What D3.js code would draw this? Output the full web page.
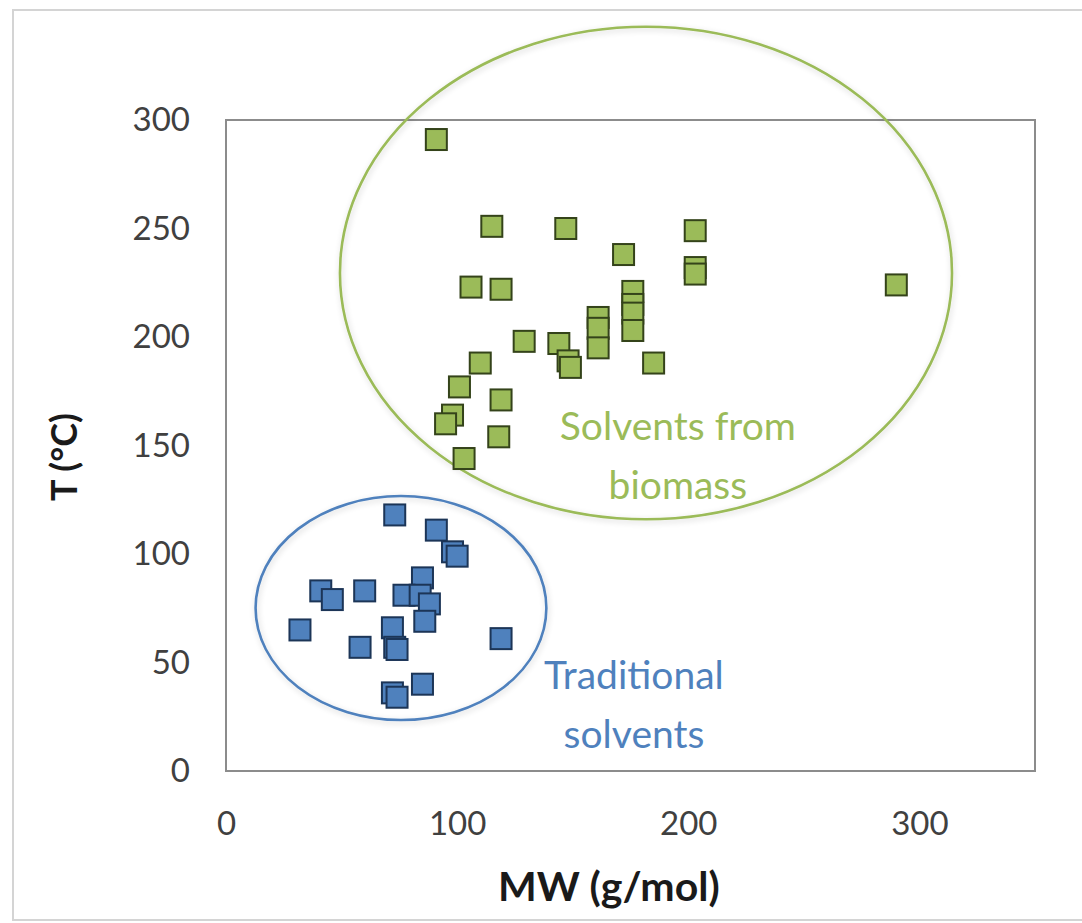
<!DOCTYPE html>
<html>
<head>
<meta charset="utf-8">
<script src="https://cdn.jsdelivr.net/npm/d3@7"></script>
<style>
  html, body { margin: 0; padding: 0; background: #ffffff; }
  svg { display: block; }
  text { font-family: Lato, "Open Sans", sans-serif; }
</style>
</head>
<body>
<svg id="chart" width="1082" height="923"></svg>
<script>
// ---- data ----
const biomassMW = [91, 115, 147, 203, 172, 203, 203, 106, 119, 176, 176, 176, 176, 161, 161, 161, 129, 144, 148, 149, 185, 110, 101, 119, 98, 95, 118, 103, 290];
const biomassT  = [291, 251, 250, 249, 238, 232, 229, 223, 222, 221, 215, 211, 203, 209, 204, 195, 198, 197, 189, 186, 188, 188, 177, 171, 164, 160, 154, 144, 224];
const tradMW = [73, 91, 98, 100, 41, 46, 60, 85, 77, 84, 88, 86, 32, 72, 73, 74, 58, 119, 85, 72, 74];
const tradT  = [118, 111, 101, 99, 83, 79, 83, 89, 81, 81, 77, 69, 65, 66, 57, 56, 57, 61, 40, 36, 34];
const xTicks = [0, 100, 200, 300];
const yTicks = [0, 50, 100, 150, 200, 250, 300];
const xLabel = "MW (g/mol)";
const yLabel = "T (°C)";
// group outlines (center MW, center T, half-width MW, half-height T)
const groupNames = ["biomass", "traditional"];
const groupCx = [181.7, 75.7];
const groupCy = [229.5, 75.1];
const groupRx = [132.4, 62.9];
const groupRy = [113.5, 51.6];
const groupText = [["Solvents from", "biomass"], ["Traditional", "solvents"]];
const groupTextMW = [195.5, 176.5];
const groupTextT = [159, 44];

// ---- layout ----
const svg = d3.select("#chart");
const plot = { left: 226, top: 120, right: 1035, bottom: 771 };
const x = d3.scaleLinear().domain([0, 350]).range([plot.left, plot.right]);
const y = d3.scaleLinear().domain([0, 300]).range([plot.bottom, plot.top]);

const green = "#9bbb59", greenStroke = "#34431a";
const blue = "#4f81bd", blueStroke = "#1c3557";

const defs = svg.append("defs");
const f = defs.append("filter").attr("id", "soft").attr("x", "-10%").attr("y", "-10%").attr("width", "120%").attr("height", "120%");
f.append("feGaussianBlur").attr("in", "SourceAlpha").attr("stdDeviation", 3).attr("result", "b");
f.append("feOffset").attr("in", "b").attr("dx", 1).attr("dy", 2).attr("result", "o");
f.append("feComponentTransfer").attr("in", "o").attr("result", "s")
  .append("feFuncA").attr("type", "linear").attr("slope", 0.18);
const m = f.append("feMerge");
m.append("feMergeNode").attr("in", "s");
m.append("feMergeNode").attr("in", "SourceGraphic");

// outer frame
svg.append("rect").attr("x", 13).attr("y", 10).attr("width", 1100).attr("height", 910)
  .attr("fill", "none").attr("stroke", "#d4d4d4").attr("stroke-width", 2);

// plot box
svg.append("rect").attr("x", plot.left).attr("y", plot.top)
  .attr("width", plot.right - plot.left).attr("height", plot.bottom - plot.top)
  .attr("fill", "none").attr("stroke", "#8c8c8c").attr("stroke-width", 2);

// axes (labels only)
const xAxis = d3.axisBottom(x).tickValues(xTicks).tickSize(0).tickPadding(0).tickFormat(d3.format("d"));
const gx = svg.append("g").attr("transform", `translate(0,${plot.bottom + 52})`).call(xAxis);
gx.select(".domain").remove();
gx.selectAll("text").attr("font-size", 33).attr("fill", "#404040").attr("dy", "0.35em")
  .attr("font-family", "Lato, 'Open Sans', sans-serif");

const yAxis = d3.axisLeft(y).tickValues(yTicks).tickSize(0).tickPadding(0).tickFormat(d3.format("d"));
const gy = svg.append("g").attr("transform", `translate(190,0)`).call(yAxis);
gy.select(".domain").remove();
gy.selectAll("text").attr("font-size", 33).attr("fill", "#404040")
  .attr("font-family", "Lato, 'Open Sans', sans-serif");

// axis titles
svg.append("text").attr("x", 498).attr("y", 887).attr("text-anchor", "start").attr("dy", "0.35em")
  .attr("font-size", 41).attr("font-weight", "bold").attr("fill", "#1a1a1a").text(xLabel);
svg.append("text").attr("transform", "translate(64,457) rotate(-90)").attr("text-anchor", "middle").attr("dy", "0.35em")
  .attr("font-size", 36).attr("font-weight", "bold").attr("fill", "#1a1a1a").text(yLabel);

// group ellipses
const ellColors = [green, blue];
groupNames.forEach((g, i) => {
  svg.append("ellipse")
    .attr("cx", x(groupCx[i])).attr("cy", y(groupCy[i]))
    .attr("rx", x(groupRx[i]) - x(0)).attr("ry", y(0) - y(groupRy[i]))
    .attr("fill", "none").attr("stroke", ellColors[i]).attr("stroke-width", 2.6)
    .attr("filter", "url(#soft)");
});

// points
function drawSquares(xs, ys, fill, stroke) {
  const s = 21;
  svg.append("g").selectAll("rect").data(xs.map((v, i) => [v, ys[i]])).join("rect")
    .attr("x", d => x(d[0]) - s / 2).attr("y", d => y(d[1]) - s / 2)
    .attr("width", s).attr("height", s)
    .attr("fill", fill).attr("stroke", stroke).attr("stroke-width", 2);
}
drawSquares(biomassMW, biomassT, green, greenStroke);
drawSquares(tradMW, tradT, blue, blueStroke);

// group labels
const textColors = [green, blue];
groupNames.forEach((g, i) => {
  const t = svg.append("text").attr("text-anchor", "middle").attr("font-size", 39).attr("fill", textColors[i]);
  groupText[i].forEach((line, j) => {
    t.append("tspan").attr("x", x(groupTextMW[i])).attr("y", y(groupTextT[i]) + j * 59).attr("dy", "0.35em").text(line);
  });
});
</script>
</body>
</html>
